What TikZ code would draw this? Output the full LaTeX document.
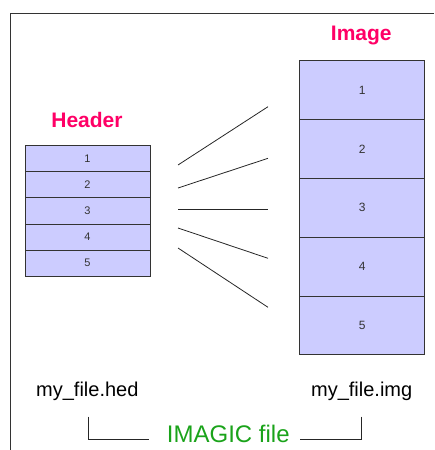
\documentclass[tikz,border=0pt]{standalone}
\usepackage{fontspec}
\setmainfont{Liberation Sans}
\usetikzlibrary{positioning,calc}
\definecolor{cellfill}{HTML}{CCCCFF}
\definecolor{ttlpink}{HTML}{FF0066}
\definecolor{filegreen}{HTML}{1AA31A}
\definecolor{edge}{HTML}{333333}
\tikzset{
  cell/.style={draw=edge,line width=0.8pt,fill=cellfill,minimum width=125pt,inner sep=0pt,outer sep=0pt,text=black!80},
  hcell/.style={cell,minimum height=26.2pt,font=\fontsize{11}{13}\selectfont},
  icell/.style={cell,minimum height=58.8pt,font=\fontsize{12}{14}\selectfont},
  ttl/.style={anchor=base,inner sep=0pt,text=ttlpink,font=\bfseries\fontsize{21}{25}\selectfont},
  fname/.style={anchor=base,inner sep=0pt,font=\fontsize{20}{24}\selectfont},
  ln/.style={draw=black!85,line width=0.8pt},
}
\begin{document}
\begin{tikzpicture}[x=1pt,y=-1pt]
\useasboundingbox (0,0) rectangle (434,450);
\draw[edge,line width=0.8pt] (434,13.5) -- (10,13.5) -- (10,450);
% titles
\node[ttl] (htitle) at (87,127.7) {Header};
\node[ttl] (ititle) at (361.3,40.7) {Image};
% header and image stacks
\node[hcell] (h1) at (87.5,158.4) {1};
\foreach \i [remember=\i as \prev (initially 1)] in {2,...,5}
  \node[hcell,below=0pt of h\prev] (h\i) {\i};
\node[icell] (i1) at (362.2,90.1) {1};
\foreach \i [remember=\i as \prev (initially 1)] in {2,...,5}
  \node[icell,below=0pt of i\prev] (i\i) {\i};
% fan of lines
\foreach \i/\ya/\yb in {1/165/106.7,2/188/158.3,3/209/209,4/228/258.3,5/248/307.3}{
  \coordinate (a\i) at (178,\ya);
  \coordinate (b\i) at (268,\yb);
  \draw[ln] (a\i) -- (b\i);
}
% file names
\node[fname] (hed) at (87.3,396) {my\_file.hed};
\node[fname] (img) at (361.7,396) {my\_file.img};
\node[fname,text=filegreen,font=\fontsize{24}{28}\selectfont] (imagic) at (228.3,442.3) {IMAGIC file};
\coordinate (bl) at (88.3,416.7);
\coordinate (br) at (361.7,416.7);
\draw[ln] (bl) |- ([xshift=-18pt,yshift=3pt]imagic.base west);
\draw[ln] (br) |- ([xshift=10pt,yshift=3pt]imagic.base east);
\end{tikzpicture}
\end{document}
